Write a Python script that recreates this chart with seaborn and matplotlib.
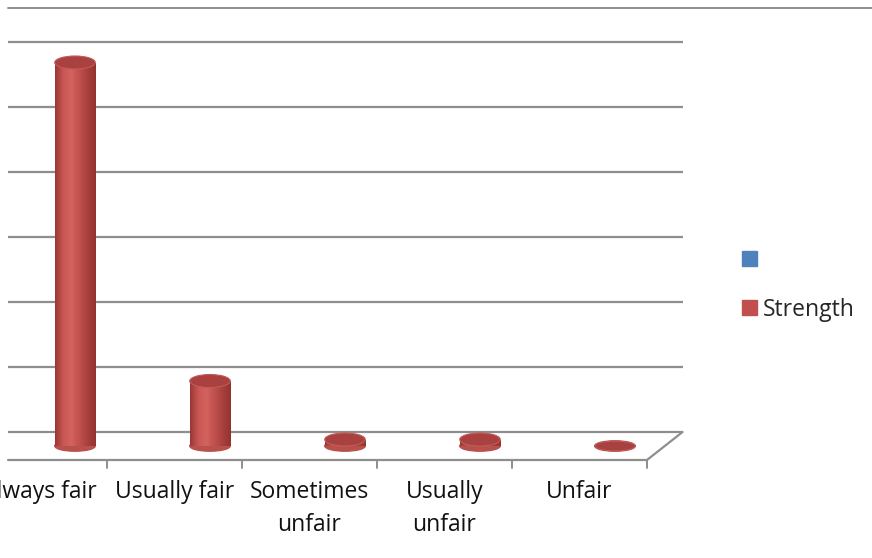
import matplotlib.pyplot as plt
from matplotlib.colors import LinearSegmentedColormap
from matplotlib.patches import Ellipse, Patch
import numpy as np
import pandas as pd
import seaborn as sns

# ── Data ─────────────────────────────────────────────────────────────
categories = ["Always fair", "Usually fair", "Sometimes\nunfair", "Usually\nunfair", "Unfair"]
strength = [59, 10, 1, 1, 0]
grid_values = [0, 10, 20, 30, 40, 50, 60]

# ── Style ────────────────────────────────────────────────────────────
RED = "#C0504D"
BLUE = "#4F81BD"
GRID = "#8e8e8e"
DEPTH_X = 0.263   # front floor edge shifted left (category units)
DEPTH_Y = 2.15    # back wall sits above the bar base (value units)
BAR_W = 0.3
CAP_H = 2.0
FS = 16.5

sns.set_theme(style="white")
plt.rcParams["font.family"] = ["Open Sans", "DejaVu Sans"]

fig = plt.figure(figsize=(8.72, 5.58), dpi=100)
ax = fig.add_axes([0, 0, 1, 1])

df = pd.DataFrame({"category": categories, "value": strength})
sns.barplot(data=df, x="category", y="value", color=RED, width=BAR_W,
            saturation=1, errorbar=None, linewidth=0, ax=ax, zorder=3)

# back wall gridlines
for v in grid_values:
    ax.plot([-0.5, 4.5], [v + DEPTH_Y] * 2, color=GRID, lw=1.6, zorder=1,
            solid_capstyle="butt")
# chart border line at the top
ax.plot([-0.5, 6.0], [67.4, 67.4], color=GRID, lw=1.4, zorder=1)

# floor: front edge, right edge and tick marks
x_front = 4.5 - DEPTH_X
ax.plot([-0.5, x_front], [-DEPTH_Y] * 2, color=GRID, lw=1.6, zorder=1)
ax.plot([x_front, 4.5], [-DEPTH_Y, DEPTH_Y], color=GRID, lw=1.6, zorder=1)
for k in range(len(categories)):
    ax.plot([0.5 - DEPTH_X + k] * 2, [-DEPTH_Y, -DEPTH_Y - 1.3], color=GRID, lw=1.4, zorder=1)
    ax.text(k - DEPTH_X, -5.2, categories[k], ha="center", va="top",
            fontsize=FS, linespacing=1.5, color="#111111")

# cylinder shading
body_cmap = LinearSegmentedColormap.from_list(
    "cyl", ["#9a3835", "#c95754", "#d4625e", "#c0504d", "#a8413e", "#93342f"])
grad = np.linspace(0, 1, 64).reshape(1, -1)
for bar, v in zip(ax.patches, strength):
    x0, w = bar.get_x(), bar.get_width()
    cx = x0 + w / 2
    ax.add_patch(Ellipse((cx, 0), w, CAP_H * 0.8, color="#b8504c", zorder=2.9))
    if v > 0:
        im = ax.imshow(grad, cmap=body_cmap, aspect="auto",
                       extent=[x0, x0 + w, 0, v], zorder=3.1)
        im.set_clip_path(bar)
    ax.add_patch(Ellipse((cx, v), w, CAP_H if v > 0 else CAP_H * 0.75,
                         facecolor="#a8413f", edgecolor="#c25a56", lw=0.8, zorder=3.5))

# legend: empty blue series + Strength
handles = [Patch(color=BLUE, label=" "), Patch(color=RED, label="Strength")]
leg = fig.legend(handles=handles, loc="center left",
                 bbox_to_anchor=(742 / 872, 1 - 285 / 558), frameon=False,
                 fontsize=FS, handlelength=0.66, handleheight=0.66,
                 handletextpad=0.25, labelspacing=1.1, borderpad=0, borderaxespad=0)

ax.set_xlim(-75 / 135, (872 - 75) / 135)
ax.set_ylim(-(558 - 446) / 6.5, 446 / 6.5)
ax.axis("off")

fig.savefig("out.png", dpi=100, facecolor="white")
